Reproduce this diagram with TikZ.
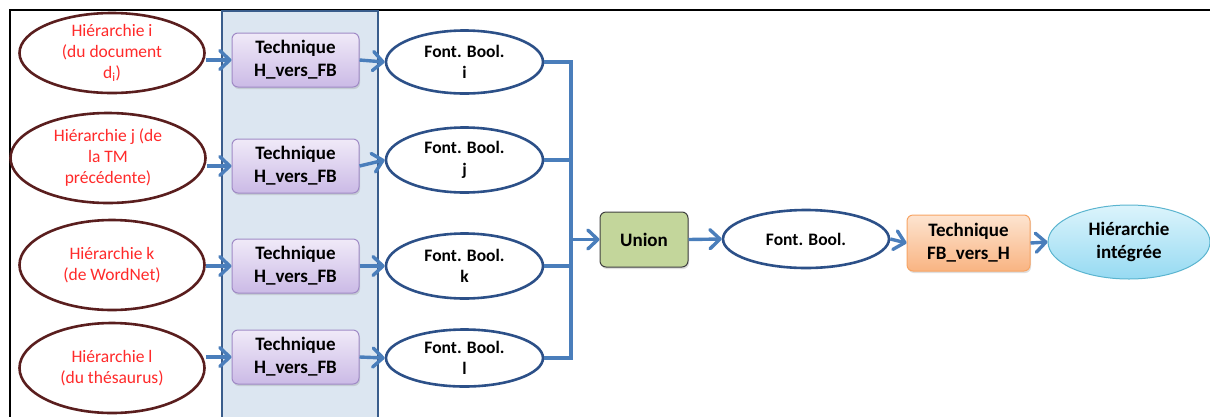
\documentclass[tikz,border=0pt]{standalone}
\usepackage{fontspec}
\setmainfont{Carlito}
\usetikzlibrary{shapes.geometric,arrows.meta,shadows}
\definecolor{arrblue}{HTML}{4A7EBB}
\definecolor{hierred}{HTML}{FF2A2A}
\definecolor{hierbrd}{HTML}{5A1E1E}
\definecolor{fbbrd}{HTML}{2C5088}
\definecolor{bandfill}{HTML}{DCE6F1}
\definecolor{bandbrd}{HTML}{3A5D8C}
\definecolor{purtop}{HTML}{F0EAF8}
\definecolor{purbot}{HTML}{CBBAE6}
\definecolor{purbrd}{HTML}{A08AC6}
\tikzset{
  hier/.style={ellipse, draw=hierbrd, line width=2.6pt, fill=white, text=hierred, align=center,
     inner sep=-6pt, font=\fontsize{17.5}{21}\selectfont},
  techbox/.style={rectangle, rounded corners=6pt, draw=purbrd, line width=1pt,
     top color=purtop, bottom color=purbot,
     minimum width=127pt, minimum height=54pt, inner sep=0pt, align=center,
     font=\fontsize{19}{23}\selectfont\bfseries,
     drop shadow={opacity=0.25, shadow xshift=1pt, shadow yshift=-2pt}},
  fbell/.style={ellipse, draw=fbbrd, line width=2.6pt, fill=white, align=center,
     inner sep=-6pt, font=\fontsize{17.5}{21.5}\selectfont\bfseries},
  unionbox/.style={rectangle, rounded corners=6pt, draw=black!75, line width=1pt,
     fill={rgb,255:red,195;green,214;blue,155}, minimum width=88pt, minimum height=55pt,
     font=\fontsize{19}{23}\selectfont\bfseries,
     drop shadow={opacity=0.25, shadow xshift=1pt, shadow yshift=-2pt}},
  fbhbox/.style={rectangle, rounded corners=6pt, draw={rgb,255:red,247;green,164;blue,100}, line width=1pt,
     top color={rgb,255:red,253;green,228;blue,208}, bottom color={rgb,255:red,249;green,180;blue,130},
     minimum width=123pt, minimum height=56pt, inner sep=0pt, align=center,
     font=\fontsize{19}{23}\selectfont\bfseries,
     drop shadow={opacity=0.25, shadow xshift=1pt, shadow yshift=-2pt}},
  integ/.style={ellipse, draw={rgb,255:red,90;green,180;blue,207}, line width=1pt,
     top color={rgb,255:red,220;green,244;blue,252}, bottom color={rgb,255:red,150;green,218;blue,242},
     minimum width=162pt, minimum height=74pt, inner sep=-6pt, align=center,
     font=\fontsize{19}{23}\selectfont\bfseries},
  arr/.style={draw=arrblue, line width=3.4pt, -{Straight Barb[length=10pt,width=19pt,round]}},
  conn/.style={draw=arrblue, line width=3.4pt}
}
\begin{document}
\begin{tikzpicture}[x=1pt,y=-1pt]
\useasboundingbox (0,0) rectangle (1210,416);
% frame
\draw[black, line width=2pt] (10,417) -- (10,10) -- (1211,10);
% band
\fill[bandfill] (222,11) rectangle (378,417);
\draw[bandbrd, line width=2.2pt] (222,417) -- (222,11) -- (378,11) -- (378,417);
% left hierarchies
\node[hier, minimum width=185pt, minimum height=80pt] (h1) at (112,53) {Hiérarchie i\\(du document\\d\textsubscript{i})};
\node[hier, minimum width=195pt, minimum height=90pt] (h2) at (108,158) {Hiérarchie j (de\\la TM\\précédente)};
\node[hier, minimum width=185pt, minimum height=90pt] (h3) at (112,265) {Hiérarchie k\\(de WordNet)};
\node[hier, minimum width=185pt, minimum height=90pt] (h4) at (112,368) {Hiérarchie l\\(du thésaurus)};
% technique boxes
\node[techbox] (t1) at (295.5,60) {Technique\\H\_vers\_FB};
\node[techbox] (t2) at (295.5,166) {Technique\\H\_vers\_FB};
\node[techbox] (t3) at (295.5,266) {Technique\\H\_vers\_FB};
\node[techbox] (t4) at (295.5,357) {Technique\\H\_vers\_FB};
% font bool
\node[fbell, minimum width=157pt, minimum height=63pt] (f1) at (464.5,62) {Font. Bool.\\i};
\node[fbell, minimum width=157pt, minimum height=65pt] (f2) at (464.5,160) {Font. Bool.\\j};
\node[fbell, minimum width=157pt, minimum height=65pt] (f3) at (464.5,266) {Font. Bool.\\k};
\node[fbell, minimum width=157pt, minimum height=57pt] (f4) at (464.5,358) {Font. Bool.\\l};
% middle row
\node[unionbox] (u) at (644,239.5) {Union};
\node[fbell, minimum width=166pt, minimum height=58pt] (fb) at (806,239) {Font. Bool.};
\node[fbhbox] (th) at (968.5,243) {Technique\\FB\_vers\_H};
\node[integ] (hi) at (1129,242) {Hiérarchie\\intégrée};
% collector coordinates
\coordinate (c1) at (571,62);
\coordinate (c2) at (571,160);
\coordinate (c3) at (571,266);
\coordinate (c4) at (571,358);
\coordinate (cu) at (571,239.5);
% arrows
\foreach \i in {1,2,3,4}{
  \draw[arr] (t\i.west -| h\i.east) -- (t\i.west);
  \draw[arr] (t\i.east) -- (f\i.west);
  \draw[conn] (f\i.east) -- (c\i);
}
\draw[conn, line cap=rect] (c1) -- (c4);
\draw[arr] (cu) -- (u.west);
\draw[arr] (u.east) -- (fb.west);
\draw[arr] (fb.east) -- (th.west);
\draw[arr] (th.east) -- (hi.west);
\end{tikzpicture}
\end{document}
